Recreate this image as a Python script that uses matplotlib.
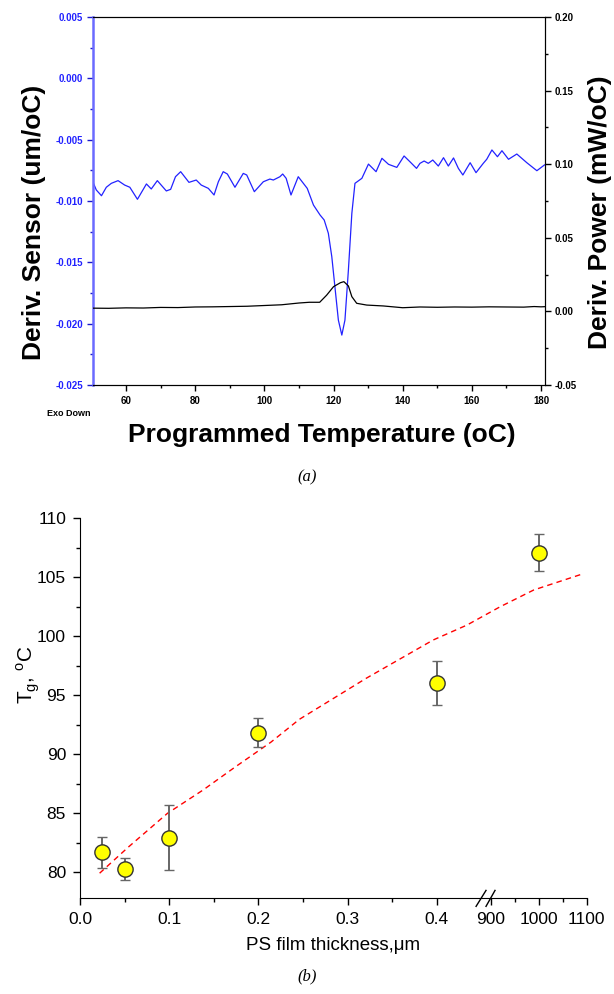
import numpy as np
import matplotlib
matplotlib.use("Agg")
import matplotlib.pyplot as plt

plt.rcParams["font.family"] = ["Liberation Sans", "DejaVu Sans"]

# (a) DSC derivative traces
temp_sensor = [50.6, 51.4, 52.9, 54.3, 55.75, 57.7, 59.6, 61.1, 63.3, 65.9, 67.3, 69.05,
               71.65, 72.9, 74.3, 75.8, 78.2, 80.3, 81.75, 83.8, 85.45, 86.7, 88.1, 89.3,
               91.5, 93.9, 94.9, 97.1, 99.7, 101.6, 102.6, 104.5, 105.3, 106.3, 107.7, 109.8,
               112.4, 114.2, 116.1, 117.3, 118.5, 119.5, 120.4, 121.4, 122.4, 123.3, 124.3,
               125.3, 126.2, 128.2, 130.1, 132.3, 134.0, 135.9, 138.3, 140.4, 142.1, 144.0,
               145.0, 146.2, 147.4, 148.7, 150.3, 151.8, 153.2, 154.7, 156.1, 157.4, 159.5,
               161.2, 163.3, 164.3, 165.8, 167.4, 168.7, 170.6, 173.0, 175.9, 178.8, 181.0]
deriv_sensor = [-0.00856, -0.0091, -0.00957, -0.00888, -0.00856, -0.00834, -0.0087, -0.00888,
                -0.00986, -0.00861, -0.00902, -0.00834, -0.00918, -0.00905, -0.00802, -0.00761,
                -0.00848, -0.00829, -0.0087, -0.00897, -0.00951, -0.00843, -0.00761, -0.0078,
                -0.00888, -0.00775, -0.00788, -0.00924, -0.00843, -0.00821, -0.00829, -0.00802,
                -0.0078, -0.00815, -0.00951, -0.00802, -0.00897, -0.01033, -0.01114, -0.01155,
                -0.01263, -0.01454, -0.01699, -0.01971, -0.02093, -0.01971, -0.01563, -0.0110,
                -0.00856, -0.00815, -0.00699, -0.00761, -0.00652, -0.00701, -0.00726, -0.00633,
                -0.0068, -0.00734, -0.00693, -0.00674, -0.00693, -0.00666, -0.00715, -0.00647,
                -0.00715, -0.00649, -0.00734, -0.00788, -0.00688, -0.00769, -0.00693, -0.0066,
                -0.00584, -0.00639, -0.0059, -0.0066, -0.00617, -0.00688, -0.00753, -0.00706]

temp_power = [50.5, 55, 60, 65, 70, 75, 80, 85, 90, 95, 100, 105, 110, 113, 116, 118, 120,
              122, 123, 124.3, 125.3, 126.7, 129.6, 134.4, 140, 145, 150, 155, 160, 165, 170,
              175, 178, 180, 181]
deriv_power = [0.0022, 0.0021, 0.0024, 0.0023, 0.0027, 0.0026, 0.0030, 0.0031, 0.0033, 0.0035,
               0.0040, 0.0045, 0.0057, 0.0062, 0.0062, 0.0110, 0.0168, 0.0195, 0.0202, 0.0173,
               0.0100, 0.0055, 0.0043, 0.0037, 0.0025, 0.0030, 0.0028, 0.0030, 0.0029, 0.0031,
               0.0030, 0.0029, 0.0033, 0.0031, 0.0032]

# (b) Tg vs film thickness
thick = [0.025, 0.05, 0.1, 0.2, 0.4, 1000]
tg = [81.7, 80.25, 82.9, 91.75, 96.0, 107.0]
tg_lo = [1.4, 0.95, 2.7, 1.15, 1.85, 1.5]
tg_hi = [1.3, 0.9, 2.8, 1.3, 1.9, 1.65]

model_thick = [0.022, 0.054, 0.098, 0.138, 0.174, 0.214, 0.246, 0.321, 0.396, 0.434,
               920, 990, 1091]
model_tg = [79.9, 82.1, 84.97, 86.95, 88.9, 91.0, 92.94, 96.42, 99.66, 100.93,
            102.48, 103.9, 105.25]

W, H = 614, 994
fig = plt.figure(figsize=(W / 100, H / 100), dpi=100)

# ---------- panel (a) ----------
blue = "#2222ff"
ax1 = fig.add_axes([93 / W, 1 - 385 / H, 452 / W, 368 / H])
ax2 = ax1.twinx()
ax1.plot(temp_sensor, deriv_sensor, color=blue, lw=0.9)
ax2.plot(temp_power, deriv_power, color="black", lw=0.9)

ax1.set_xlim(50.45, 181.15)
ax1.set_ylim(-0.025, 0.005)
ax2.set_ylim(-0.05, 0.20)

xt = [60, 80, 100, 120, 140, 160, 180]
ax1.set_xticks(xt, labels=[str(v) for v in xt], fontsize=7, fontweight="bold")
ax1.set_xticks(np.arange(60, 181, 10), minor=True)
lt = [-0.025, -0.020, -0.015, -0.010, -0.005, 0.000, 0.005]
ax1.set_yticks(lt, labels=[f"{v:.3f}" for v in lt], fontsize=7, fontweight="bold", color=blue)
ax1.set_yticks(np.arange(-0.0225, 0.005, 0.005), minor=True)
rt = [-0.05, 0.00, 0.05, 0.10, 0.15, 0.20]
ax2.set_yticks(rt, labels=[f"{v:.2f}" for v in rt], fontsize=7, fontweight="bold")
ax2.set_yticks(np.arange(-0.025, 0.2, 0.05), minor=True)

ax1.tick_params(axis="x", which="major", length=4, width=1, pad=4)
ax1.tick_params(axis="x", which="minor", length=2.5, width=1)
ax1.tick_params(axis="y", which="both", colors="#1a1acc", labelcolor=blue, width=1)
ax1.tick_params(axis="y", which="major", length=4, pad=3)
ax1.tick_params(axis="y", which="minor", length=2.5)
ax2.tick_params(axis="y", which="major", length=4, width=1, pad=3)
ax2.tick_params(axis="y", which="minor", length=2.5, width=1)

ax1.spines["left"].set_color("#6a6aff")
ax1.spines["left"].set_linewidth(1.8)
ax2.spines["left"].set_visible(False)

fig.text(34 / W, 1 - 222 / H, "Deriv. Sensor (um/oC)", rotation=90, fontsize=19,
         fontweight="bold", ha="center", va="center")
fig.text(600 / W, 1 - 212 / H, "Deriv. Power (mW/oC)", rotation=90, fontsize=19,
         fontweight="bold", ha="center", va="center")
fig.text(322 / W, 1 - 435 / H, "Programmed Temperature (oC)", fontsize=19,
         fontweight="bold", ha="center", va="center")
fig.text(69 / W, 1 - 413 / H, "Exo Down", fontsize=6.5, fontweight="bold",
         ha="center", va="center")
fig.text(307 / W, 1 - 477 / H, "(a)", fontsize=12, style="italic",
         family="Liberation Serif", ha="center", va="center")

# ---------- panel (b) ----------
brk_x = [0.0, 0.45, 900.0, 1100.0]
brk_u = [0.0, 4.5, 4.604, 5.68]


def fwd(x):
    return np.interp(x, brk_x, brk_u)


def inv(u):
    return np.interp(u, brk_u, brk_x)


bx = fig.add_axes([80 / W, 1 - 898 / H, 506.5 / W, 380 / H])
bx.set_xscale("function", functions=(fwd, inv))
bx.plot(model_thick, model_tg, color="red", lw=1, dashes=(4, 3))
_, caps, bars = bx.errorbar(thick, tg, yerr=[tg_lo, tg_hi], fmt="o", ms=11,
                            mfc="#ffff00", mec="#333333", mew=1, ecolor="#666666",
                            elinewidth=1.4, capsize=3.5, capthick=1, zorder=3)
for c in caps:
    c.set_color("black")

bx.set_xlim(0, 1100)
bx.set_ylim(77.8, 110)
bt = [0.0, 0.1, 0.2, 0.3, 0.4, 900, 1000, 1100]
bx.set_xticks(bt, labels=["0.0", "0.1", "0.2", "0.3", "0.4", "900", "1000", "1100"])
bx.set_xticks([0.05, 0.15, 0.25, 0.35, 950, 1050], minor=True)
bx.set_yticks(np.arange(80, 111, 5))
bx.set_yticks(np.arange(82.5, 110, 5), minor=True)
bx.tick_params(which="major", length=5, width=1, labelsize=12.5, pad=5)
bx.tick_params(which="minor", length=3, width=1)
bx.spines[["top", "right"]].set_visible(False)

tr = bx.transAxes
for x0, x1 in [(0.782, 0.8016), (0.8016, 0.8194)]:
    bx.plot([x0, x1], [-0.022, 0.02], transform=tr, color="black", lw=1, clip_on=False)

bx.set_xlabel("PS film thickness,\u03bcm", fontsize=13.5, labelpad=7)
fig.text(28 / W, 1 - 675 / H, r"T$_{\mathregular{g}}$, $^{\mathregular{o}}$C", rotation=90,
         fontsize=15, ha="center", va="center")
fig.text(307 / W, 1 - 976 / H, "(b)", fontsize=12, style="italic",
         family="Liberation Serif", ha="center", va="center")

fig.savefig("out.png", dpi=100, facecolor="white")
